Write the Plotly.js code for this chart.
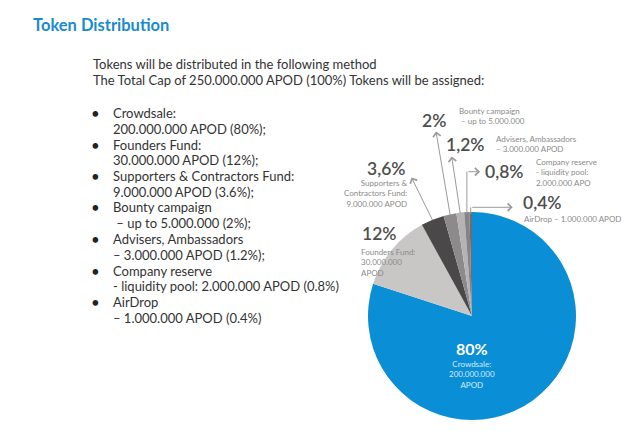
<!DOCTYPE html>
<html>
<head>
<meta charset="utf-8">
<script src="https://cdn.plot.ly/plotly-3.0.1.min.js"></script>
<style>html,body{margin:0;padding:0;background:#fff;}#chart{width:640px;height:446px;}</style>
</head>
<body>
<div id="chart"></div>
<script>
// ---- data ----
const categories = ['Crowdsale', 'Founders Fund', 'Supporters & Contractors Fund', 'Bounty campaign', 'Advisers, Ambassadors', 'Company reserve', 'AirDrop'];
const tokens = [200000000, 30000000, 9000000, 5000000, 3000000, 2000000, 1000000];
const pctLabels = ['80%', '12%', '3,6%', '2%', '1,2%', '0,8%', '0,4%'];
const subLabels = [
  'Crowdsale:<br>200.000.000<br>APOD',
  'Founders Fund:<br>30.000.000<br>APOD',
  'Supporters &<br>Contractors Fund:<br>9.000.000 APOD',
  'Bounty campaign<br> – up to 5.000.000',
  'Advisers, Ambassadors<br>– 3.000.000 APOD',
  'Company reserve<br>- liquidity pool:<br>2.000.000 APO',
  'AirDrop – 1.000.000 APOD'
];
const sliceColors = ['#0a8ed6', '#c9c6c6', '#4a4848', '#8c8a8a', '#b5b3b3', '#858383', '#6e6c6c'];
const titleText = 'Token Distribution';
const introLines = ['Tokens will be distributed in the following method', 'The Total Cap of 250.000.000 APOD (100%) Tokens will be assigned:'];
const listItems = [
  ['Crowdsale:', '200.000.000 APOD (80%);'],
  ['Founders Fund:', '30.000.000 APOD (12%);'],
  ['Supporters & Contractors Fund:', '9.000.000 APOD (3.6%);'],
  ['Bounty campaign', ' – up to 5.000.000 (2%);'],
  ['Advisers, Ambassadors', '– 3.000.000 APOD (1.2%);'],
  ['Company reserve', '- liquidity pool: 2.000.000 APOD (0.8%)'],
  ['AirDrop', '– 1.000.000 APOD (0.4%)']
];

// ---- layout helpers ----
const W = 640, H = 446;
const px = x => x / W;
const py = y => 1 - y / H;
const CX = 472, CY = 316, R = 104;
const FONT = 'Lato, "Open Sans", sans-serif';

const total = tokens.reduce((a, b) => a + b, 0);
let cum = 0;
const mids = tokens.map(v => { const m = (cum + v / 2) / total; cum += v; return m; });
const edgePt = i => { const t = mids[i] * 2 * Math.PI; return [CX + (R - 2) * Math.sin(t), CY - (R - 2) * Math.cos(t)]; };

const ann = [];
const shapes = [];
const txt = (x, y, text, size, color, xanchor, weight, extra) => ann.push(Object.assign({
  xref: 'paper', yref: 'paper', x: px(x), y: py(y), text: text, showarrow: false,
  xanchor: xanchor || 'left', yanchor: 'middle',
  font: {family: FONT, size: size, color: color, weight: weight || 400}
}, extra || {}));

// title
txt(31, 25, titleText, 16.5, '#1a8ace', 'left', 700);
// intro
const BODY = 13;
txt(91, 64, introLines[0], BODY, '#333333');
txt(91, 80, introLines[1], BODY, '#333333');
// list
const listY0 = 113, listStep = 15.75;
listItems.forEach((it, i) => {
  const y1 = listY0 + i * 2 * listStep;
  txt(95, y1, '•', 15, '#222222', 'center');
  txt(111, y1, it[0], BODY, '#333333');
  txt(111, y1 + listStep, it[1], BODY, '#333333');
});

// pie labels
const bigC = '#4d4d4d', subC = '#8a8a8a', BIG = 17.5, SUB = 8;
txt(472, 348, pctLabels[0], 16, '#ffffff', 'center', 700);
txt(472, 374, subLabels[0], SUB, '#d6ebf8', 'center', 400, {align: 'center'});
txt(360, 234, pctLabels[1], BIG, bigC, 'left', 600);
txt(359, 262, subLabels[1], SUB, subC, 'left', 400, {align: 'left'});
txt(408, 168, pctLabels[2], BIG, bigC, 'right', 600);
txt(409, 194, subLabels[2], SUB, subC, 'right', 400, {align: 'right'});
txt(420, 120, pctLabels[3], BIG, bigC, 'left', 600);
txt(457, 116.5, subLabels[3], SUB, subC, 'left', 400, {align: 'left'});
txt(444, 145, pctLabels[4], BIG, bigC, 'left', 600);
txt(494, 143.5, subLabels[4], SUB, subC, 'left', 400, {align: 'left'});
txt(483, 171, pctLabels[5], BIG, bigC, 'left', 600);
txt(534, 172, subLabels[5], SUB, subC, 'left', 400, {align: 'left'});
txt(521, 202, pctLabels[6], BIG, bigC, 'left', 600);
txt(522, 218.5, subLabels[6], SUB, subC, 'left', 400);

// leader arrows
const arrowC = '#9a9a9a';
const arrow = (hx, hy, tx, ty) => ann.push({
  xref: 'paper', yref: 'paper', x: px(hx), y: py(hy), axref: 'pixel', ayref: 'pixel',
  ax: tx - hx, ay: ty - hy, text: '', showarrow: true, arrowhead: 4, arrowsize: 1.5,
  arrowwidth: 1, arrowcolor: arrowC, standoff: 0, startstandoff: 0
});
let p;
p = edgePt(2); arrow(411.5, 177.5, p[0], p[1]);
p = edgePt(3); arrow(436, 131.5, p[0], p[1]);
p = edgePt(4); arrow(451.7, 156.5, p[0], p[1]);
p = edgePt(5);
shapes.push({type: 'line', xref: 'paper', yref: 'paper', x0: px(p[0]), y0: py(p[1]), x1: px(p[0]), y1: py(171.7), line: {color: arrowC, width: 1}});
arrow(480, 171.7, p[0], 171.7);
p = edgePt(6);
shapes.push({type: 'line', xref: 'paper', yref: 'paper', x0: px(p[0]), y0: py(p[1]), x1: px(p[0]), y1: py(207.3), line: {color: arrowC, width: 1}});
arrow(512.7, 207.3, p[0], 207.3);

const trace = {
  type: 'pie', labels: categories, values: tokens, sort: false, direction: 'clockwise', rotation: 0,
  marker: {colors: sliceColors, line: {width: 0}}, textinfo: 'none', hoverinfo: 'label+percent',
  domain: {x: [(CX - R) / W, (CX + R) / W], y: [(H - CY - R) / H, (H - CY + R) / H]}
};

Plotly.newPlot('chart', [trace], {
  width: W, height: H, margin: {l: 0, r: 0, t: 0, b: 0}, showlegend: false,
  paper_bgcolor: '#ffffff', annotations: ann, shapes: shapes
}, {displayModeBar: false, staticPlot: true});
</script>
</body>
</html>
